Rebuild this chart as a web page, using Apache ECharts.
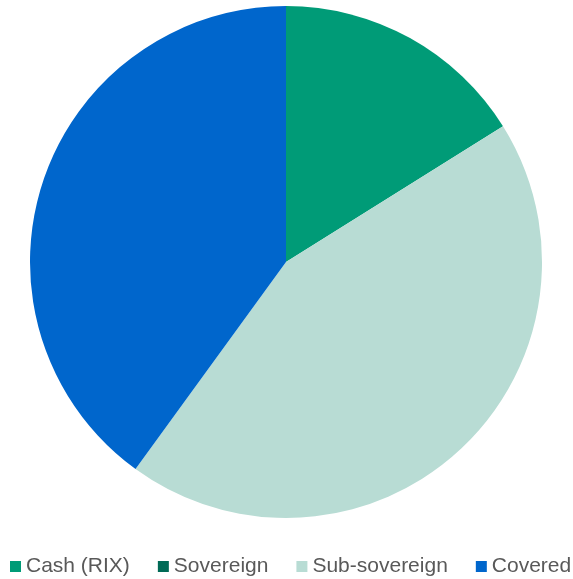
<!DOCTYPE html>
<html><head><meta charset="utf-8">
<script src="https://cdn.jsdelivr.net/npm/echarts@6/dist/echarts.min.js"></script>
<style>html,body{margin:0;padding:0;background:#fff}#c{width:573px;height:579px}</style>
</head><body><div id="c"></div>
<script>
const categories = ['Cash (RIX)', 'Sovereign', 'Sub-sovereign', 'Covered'];
const values = [16.1, 0, 43.9, 40.0];
const colors = ['#009B77', '#006A56', '#B8DCD4', '#0066CC'];
const chart = echarts.init(document.getElementById('c'));
chart.setOption({
  animation: false,
  color: colors,
  legend: {
    top: 556,
    left: 10,
    width: 600,
    padding: 0,
    itemWidth: 11,
    itemHeight: 11,
    itemGap: 28,
    itemStyle: {borderWidth: 0},
    icon: 'rect',
    textStyle: {fontFamily: 'Liberation Sans', fontSize: 21, color: '#595959'},
    data: categories
  },
  series: [{
    type: 'pie',
    center: [286, 262],
    radius: [0, 256],
    startAngle: 90,
    clockwise: true,
    label: {show: false},
    labelLine: {show: false},
    itemStyle: {borderWidth: 0},
    emphasis: {disabled: true},
    data: categories.map((n, i) => ({name: n, value: values[i]}))
  }]
});
</script></body></html>
